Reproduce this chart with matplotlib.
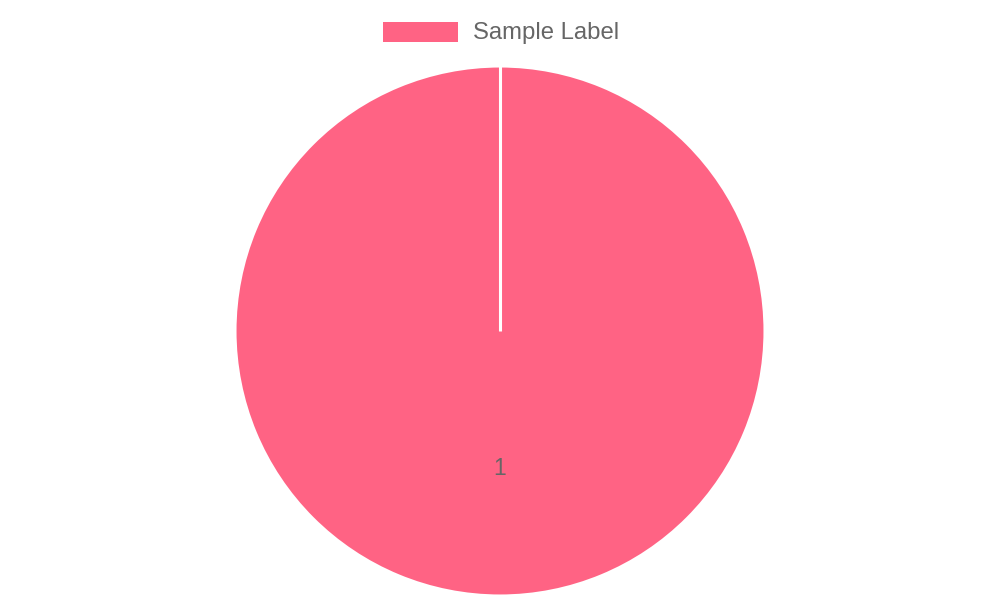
import matplotlib
matplotlib.use("Agg")
import matplotlib.pyplot as plt
from matplotlib.patches import Rectangle
import numpy as np

labels = ["Sample Label"]
values = [1]
colors = ["#FF6384"]
value_labels = ["1"]

plt.rcParams['font.family'] = ['Liberation Sans', 'DejaVu Sans']

fig = plt.figure(figsize=(10, 6), dpi=100)
cx, cy, r = 500, 331, 265
ax = fig.add_axes([(cx - r) / 1000, (600 - cy - r) / 600, 2 * r / 1000, 2 * r / 600])
wedges, _ = ax.pie(values, colors=colors, startangle=90, counterclock=False,
                   radius=1, wedgeprops=dict(edgecolor="white", linewidth=2.2))
ax.set_xlim(-1, 1)
ax.set_ylim(-1, 1)
ax.set_aspect("equal")
ax.axis("off")

# slice borders (radial edges) drawn from each wedge's start angle
for w in wedges:
    a = np.deg2rad(w.theta1)
    ax.plot([0, w.r * np.cos(a)], [0, w.r * np.sin(a)], color="white",
            lw=2.2, solid_capstyle="butt")

# value label at mid radius, mid angle
for w, t in zip(wedges, value_labels):
    ang = np.deg2rad((w.theta1 + w.theta2) / 2)
    ax.text(0.51 * np.cos(ang), 0.51 * np.sin(ang) - 0.01, t, ha="center",
            va="center", fontsize=16.5, color="#666666")

# legend
fig.patches.append(Rectangle((383 / 1000, 1 - 42 / 600), 75 / 1000, 20 / 600,
                             transform=fig.transFigure, facecolor=colors[0],
                             edgecolor="none"))
fig.text(473 / 1000, 1 - 33.5 / 600, labels[0], ha="left", va="center",
         fontsize=17.2, color="#666666")

fig.savefig("out.png", dpi=100)
